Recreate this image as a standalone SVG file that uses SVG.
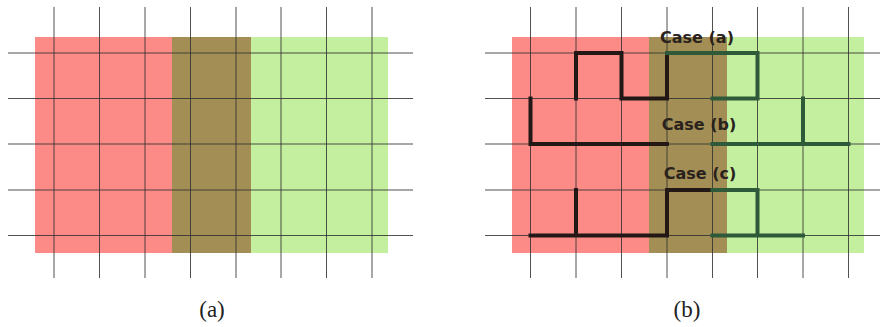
<svg xmlns="http://www.w3.org/2000/svg" width="880" height="327" viewBox="0 0 880 327">
<style>
.red{fill:#fc8a86}
.olive{fill:#a38f55}
.green{fill:#c3ef9f}
.grid{stroke:#333;stroke-width:1;stroke-opacity:0.85;fill:none}
.dk{stroke:#231816;stroke-width:4;fill:none;stroke-linejoin:miter;stroke-linecap:square}
.gn{stroke:#2f5a3a;stroke-width:4;fill:none;stroke-linejoin:miter;stroke-linecap:square}
.case{font-family:"DejaVu Sans",sans-serif;font-weight:bold;font-size:16px;fill:#2a221d;text-anchor:middle}
.cap{font-family:"Liberation Serif",serif;font-size:23px;fill:#222;text-anchor:middle}
</style>
<g id="panel-a">
<rect class="red" x="35" y="37" width="137" height="216"/>
<rect class="olive" x="172" y="37" width="79" height="216"/>
<rect class="green" x="251" y="37" width="137" height="216"/>
<g class="grid">
<path d="M54 7V278M99.5 7V278M145 7V278M190.5 7V278M236 7V278M281 7V278M326.5 7V278M372 7V278"/>
<path d="M8 53H413M8 98.5H413M8 144H413M8 190H413M8 235.5H413"/>
</g>
</g>
<g id="panel-b">
<rect class="red" x="512" y="37" width="137" height="216"/>
<rect class="olive" x="649" y="37" width="78" height="216"/>
<rect class="green" x="727" y="37" width="137" height="216"/>
<g class="grid">
<path d="M530.5 7V278M576 7V278M621.5 7V278M667 7V278M712.5 7V278M757.5 7V278M803 7V278M848.5 7V278"/>
<path d="M485 53H880M485 98.5H880M485 144H880M485 190H880M485 235.5H880"/>
</g>
</g>
<g id="connectors">
<path class="dk" d="M576 98.5V53H621.5V98.5H667V53"/>
<path class="gn" d="M667 53H757.5V98.5H712.5"/>
<path class="dk" d="M530.5 98.5V144H667"/>
<path class="gn" d="M712.5 144H848.5M803 98.5V144"/>
<path class="dk" d="M530.5 235.5H667V190H712.5M576 190V235.5"/>
<path class="gn" d="M712.5 190H757.5V235.5M712.5 235.5H803"/>
</g>
<g id="labels">
<text class="case" x="697" y="43">Case (a)</text>
<text class="case" x="699" y="130">Case (b)</text>
<text class="case" x="700" y="179">Case (c)</text>
<text class="cap" x="212" y="317">(a)</text>
<text class="cap" x="687" y="317">(b)</text>
</g>
</svg>
